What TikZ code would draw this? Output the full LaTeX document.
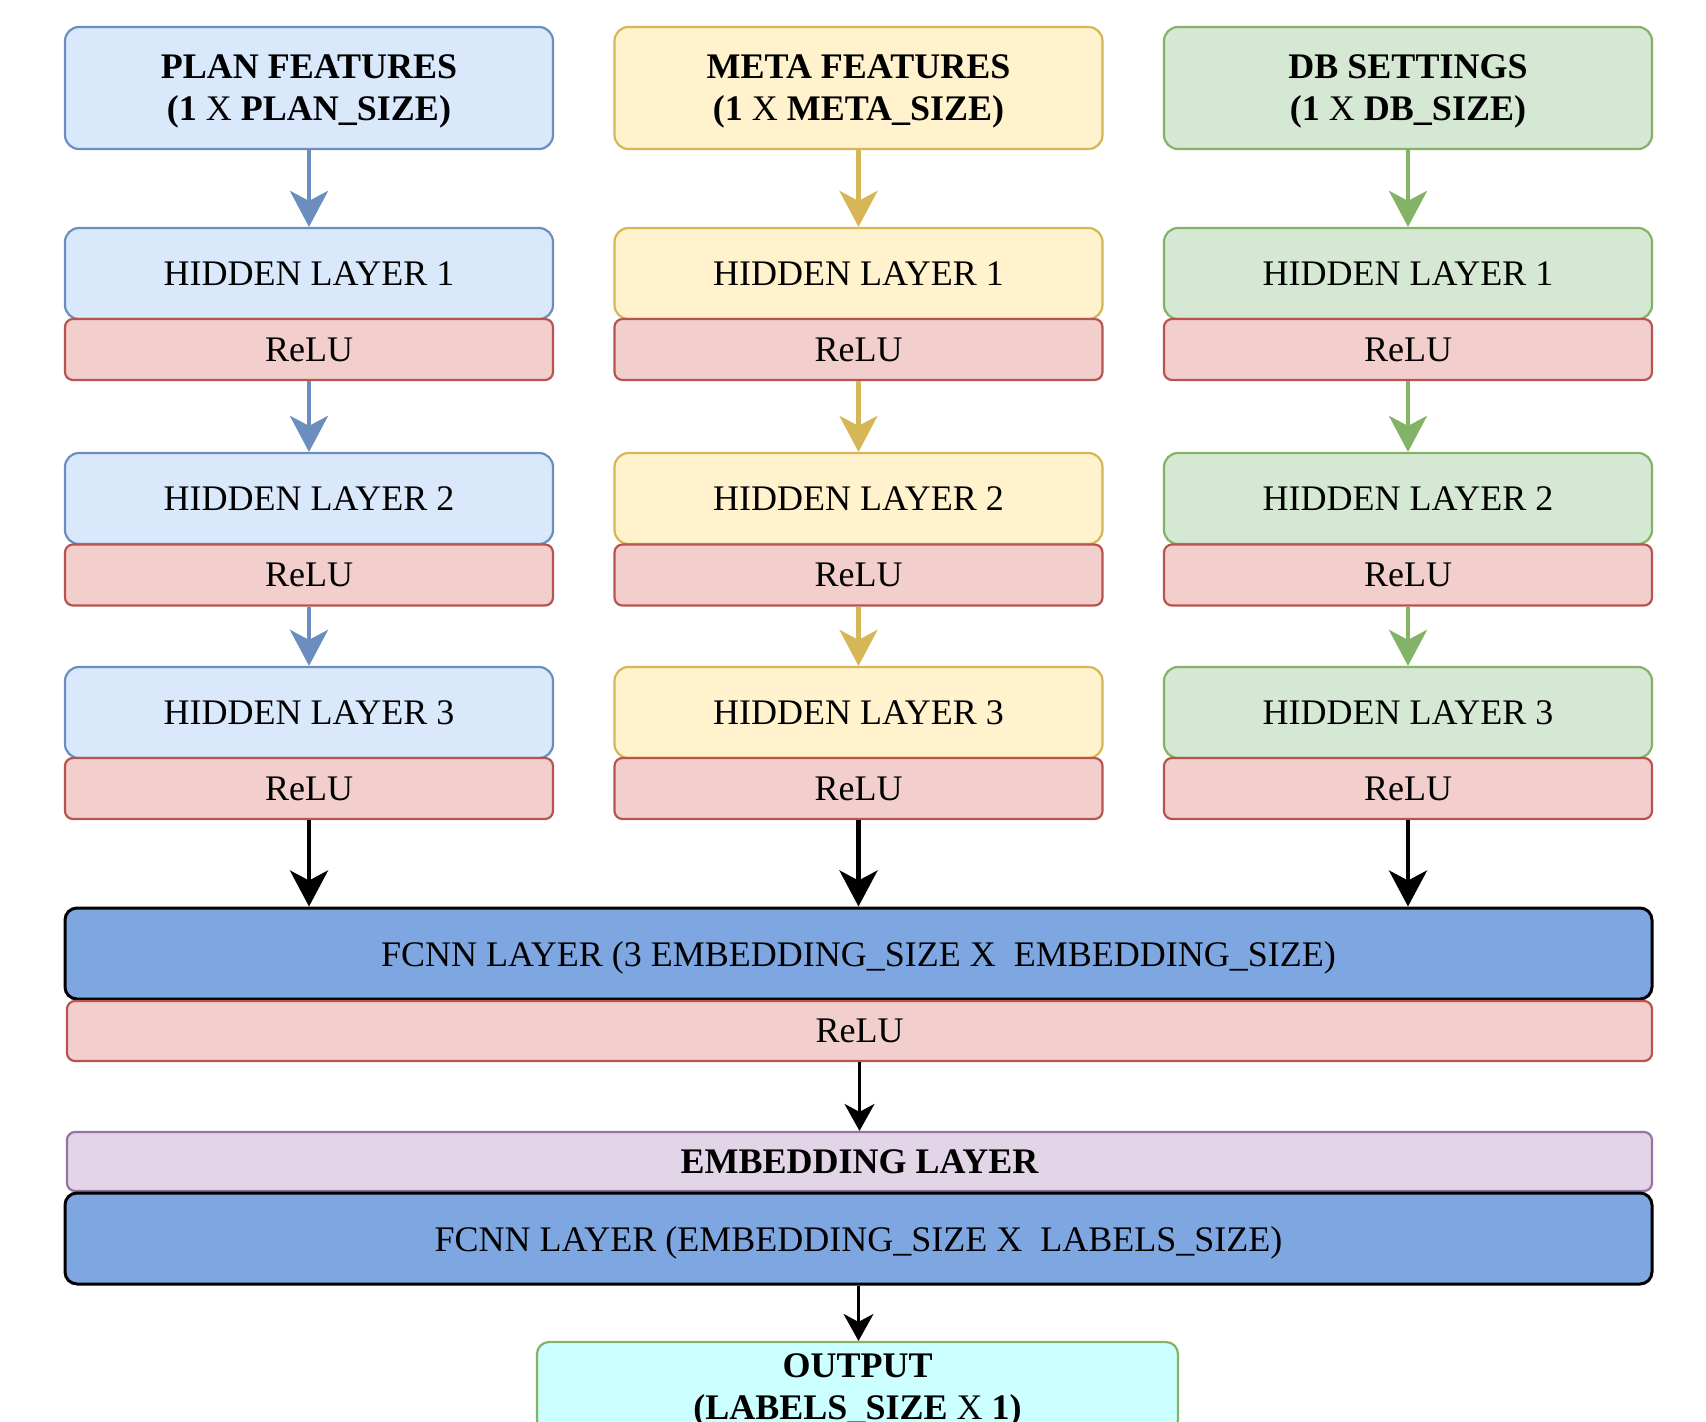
\documentclass[tikz,border=0pt]{standalone}
\usepackage{fontspec}
\setmainfont{Liberation Serif}
\usetikzlibrary{arrows.meta}

% palette
\definecolor{F-pl}{HTML}{DAE8FC}\definecolor{S-pl}{HTML}{6C8EBF}
\definecolor{F-me}{HTML}{FFF2CC}\definecolor{S-me}{HTML}{D6B656}
\definecolor{F-db}{HTML}{D5E8D4}\definecolor{S-db}{HTML}{82B366}
\definecolor{F-re}{HTML}{F2CFCD}\definecolor{S-re}{HTML}{B85450}
\definecolor{F-em}{HTML}{E1D5E7}\definecolor{S-em}{HTML}{9673A6}
\definecolor{F-fc}{HTML}{7EA6E0}
\definecolor{F-out}{HTML}{CCFFFF}

\newcommand\labelfont{\fontsize{36}{42}\selectfont}

\tikzset{
  box/.style={rectangle, rounded corners=14pt, line width=2.2pt, align=center,
    inner sep=0pt, text depth=0pt, font=\labelfont},
  colbox/.style={box, minimum width=488pt},
  relubox/.style={box, rounded corners=8pt, fill=F-re, draw=S-re},
  widebox/.style={box, minimum width=1587pt, minimum height=91pt, rounded corners=12pt,
    fill=F-fc, draw=black, line width=3pt},
  colarrow/.style={line width=4.5pt, -{Stealth[length=36pt,width=38pt,inset=10pt]}},
  thickarrow/.style={line width=4.5pt, draw=black, -{Stealth[length=36pt,width=38pt,inset=10pt]}},
  thinarrow/.style={line width=2.5pt, draw=black, -{Stealth[length=27pt,width=30pt,inset=8pt]}},
}

\begin{document}
\begin{tikzpicture}[x=1pt, y=-1pt]
\useasboundingbox (0,0) rectangle (1706,1422);
\clip (0,0) rectangle (1706,1422);

% three input branches
\foreach \c/\x/\col/\title/\sz in {p/309/pl/PLAN FEATURES/PLAN, m/858.5/me/META FEATURES/META, d/1408/db/DB SETTINGS/DB}{
  \node[colbox, fill=F-\col, draw=S-\col, minimum height=122pt, font=\labelfont\bfseries]
    (\c0) at (\x,88) {\title\\(1 {\mdseries X} \sz\_SIZE)};
  \node[colbox, fill=F-\col, draw=S-\col, minimum height=91pt] (\c1) at (\x,273.5) {HIDDEN LAYER 1};
  \node[relubox, minimum width=488pt, minimum height=61pt] (\c1r) at (\x,349.5) {ReLU};
  \node[colbox, fill=F-\col, draw=S-\col, minimum height=91pt] (\c2) at (\x,498.5) {HIDDEN LAYER 2};
  \node[relubox, minimum width=488pt, minimum height=61pt] (\c2r) at (\x,575) {ReLU};
  \node[colbox, fill=F-\col, draw=S-\col, minimum height=91pt] (\c3) at (\x,712.5) {HIDDEN LAYER 3};
  \node[relubox, minimum width=488pt, minimum height=61pt] (\c3r) at (\x,788.5) {ReLU};
  \draw[colarrow, draw=S-\col] (\c0) -- (\c1);
  \draw[colarrow, draw=S-\col] (\c1r) -- (\c2);
  \draw[colarrow, draw=S-\col] (\c2r) -- (\c3);
}

% merged head
\node[widebox] (fc1) at (858.5,953.5) {FCNN LAYER (3 EMBEDDING\_SIZE X\ \ EMBEDDING\_SIZE)};
\node[relubox, minimum width=1585pt, minimum height=60pt] (rb) at (859.5,1031) {ReLU};
\node[box, rounded corners=8pt, fill=F-em, draw=S-em, minimum width=1585pt, minimum height=59pt,
  font=\labelfont\bfseries] (emb) at (859.5,1161.5) {EMBEDDING LAYER};
\node[widebox] (fc2) at (858.5,1238.5) {FCNN LAYER (EMBEDDING\_SIZE X\ \ LABELS\_SIZE)};
\node[box, rounded corners=12pt, fill=F-out, draw=S-db, minimum width=641pt, minimum height=90pt,
  font=\labelfont\bfseries] (out) at (857.5,1387) {OUTPUT\\(LABELS\_SIZE {\mdseries X} 1)};

\foreach \c in {p,m,d}{
  \draw[thickarrow] (\c3r.south) -- (\c3r.south |- fc1.north);
}
\draw[thinarrow] (rb.south) -- (rb.south |- emb.north);
\draw[thinarrow] (fc2.south) -- (fc2.south |- out.north);
\end{tikzpicture}
\end{document}
